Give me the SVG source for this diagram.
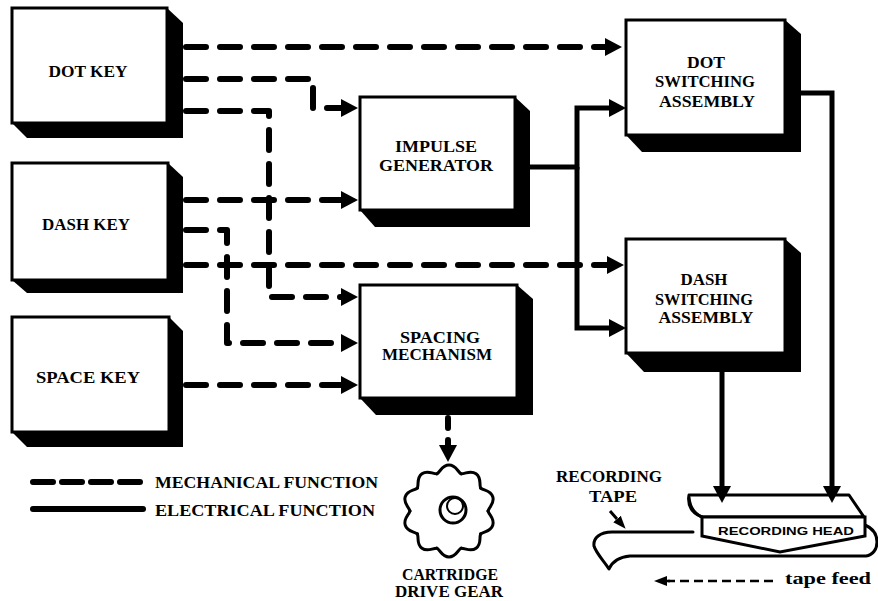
<svg xmlns="http://www.w3.org/2000/svg" width="878" height="601" viewBox="0 0 878 601">
<defs>
<style>
.face{fill:#fff;stroke:#000;stroke-width:3}
.shd{fill:#000}
.t{font-family:"Liberation Serif","DejaVu Serif",serif;font-weight:bold;font-size:16px;text-anchor:middle;fill:#000}
.ts{font-family:"Liberation Serif","DejaVu Serif",serif;font-weight:bold;font-size:16px;fill:#000}
.mech{fill:none;stroke:#000;stroke-width:6;stroke-dasharray:20 14;stroke-linecap:round;stroke-linejoin:round}
.elec{fill:none;stroke:#000;stroke-width:5;stroke-linejoin:miter}
.thin{fill:none;stroke:#000;stroke-width:3;stroke-linejoin:round;stroke-linecap:round}
</style>
<marker id="ah" markerUnits="userSpaceOnUse" markerWidth="20" markerHeight="20" refX="0" refY="9" orient="auto" viewBox="0 0 20 18">
<path d="M0,0 L17,9 L0,18 Z" fill="#000"/>
</marker>
<marker id="ahs" markerUnits="userSpaceOnUse" markerWidth="14" markerHeight="12" refX="0" refY="5" orient="auto" viewBox="0 0 14 10">
<path d="M0,0 L13,5 L0,10 Z" fill="#000"/>
</marker>
<path id="tooth" d="M-12.1,-37.1 C-8,-40 -7,-46 0,-46 C7,-46 8,-40 12.1,-37.1"/>
</defs>
<rect width="878" height="601" fill="#fff"/>

<g id="dot-key">
<path class="shd" d="M167,8 L183,23 V138 H27 L12,123 Z"/>
<rect class="face" x="12" y="8" width="155" height="115"/>
<text class="t" x="88" y="77" textLength="79" lengthAdjust="spacingAndGlyphs">DOT KEY</text>
</g>
<g id="dash-key">
<path class="shd" d="M168,163 L183,177 V293 H27 L12,280 Z"/>
<rect class="face" x="12" y="163" width="156" height="117"/>
<text class="t" x="86" y="230" textLength="88" lengthAdjust="spacingAndGlyphs">DASH KEY</text>
</g>
<g id="space-key">
<path class="shd" d="M169,317 L183,331 V447 H27 L12,432 Z"/>
<rect class="face" x="12" y="317" width="157" height="115"/>
<text class="t" x="88" y="383" textLength="104" lengthAdjust="spacingAndGlyphs">SPACE KEY</text>
</g>
<g id="impulse-generator">
<path class="shd" d="M515,97 L530,111 V227 H375 L360,210 Z"/>
<rect class="face" x="360" y="97" width="155" height="113"/>
<text class="t" x="436" y="152" textLength="82" lengthAdjust="spacingAndGlyphs">IMPULSE</text>
<text class="t" x="436" y="171" textLength="114" lengthAdjust="spacingAndGlyphs">GENERATOR</text>
</g>
<g id="spacing-mechanism">
<path class="shd" d="M517,285 L533,299 V415 H376 L360,398 Z"/>
<rect class="face" x="360" y="285" width="157" height="113"/>
<text class="t" x="440" y="343" textLength="80" lengthAdjust="spacingAndGlyphs">SPACING</text>
<text class="t" x="437" y="360" textLength="110" lengthAdjust="spacingAndGlyphs">MECHANISM</text>
</g>
<g id="dot-switching-assembly">
<path class="shd" d="M785,20 L801,34 V152 H642 L626,135 Z"/>
<rect class="face" x="626" y="20" width="159" height="115"/>
<text class="t" x="706" y="68" textLength="38" lengthAdjust="spacingAndGlyphs">DOT</text>
<text class="t" x="705" y="87" textLength="100" lengthAdjust="spacingAndGlyphs">SWITCHING</text>
<text class="t" x="707" y="107" textLength="96" lengthAdjust="spacingAndGlyphs">ASSEMBLY</text>
</g>
<g id="dash-switching-assembly">
<path class="shd" d="M785,239 L801,253 V372 H644 L626,353 Z"/>
<rect class="face" x="626" y="239" width="159" height="114"/>
<text class="t" x="704" y="285" textLength="47" lengthAdjust="spacingAndGlyphs">DASH</text>
<text class="t" x="704" y="305" textLength="98" lengthAdjust="spacingAndGlyphs">SWITCHING</text>
<text class="t" x="706" y="323" textLength="95" lengthAdjust="spacingAndGlyphs">ASSEMBLY</text>
</g>

<g id="cartridge-drive-gear">
<g class="thin" transform="translate(449,511)">
<use href="#tooth"/>
<use href="#tooth" transform="rotate(36)"/>
<use href="#tooth" transform="rotate(72)"/>
<use href="#tooth" transform="rotate(108)"/>
<use href="#tooth" transform="rotate(144)"/>
<use href="#tooth" transform="rotate(180)"/>
<use href="#tooth" transform="rotate(216)"/>
<use href="#tooth" transform="rotate(252)"/>
<use href="#tooth" transform="rotate(288)"/>
<use href="#tooth" transform="rotate(324)"/>
</g>
<circle cx="453" cy="510" r="13" fill="#fff" stroke="#000" stroke-width="3"/>
<circle cx="455" cy="506" r="8" fill="none" stroke="#000" stroke-width="2"/>
<text class="t" x="450" y="580" textLength="96" lengthAdjust="spacingAndGlyphs">CARTRIDGE</text>
<text class="t" x="449" y="597" textLength="108" lengthAdjust="spacingAndGlyphs">DRIVE GEAR</text>
</g>

<g id="recording-tape">
<path class="thin" d="M693,532 H612 C600,532 593,538 594,546 C596,553 604,561 609,569 C612,562 619,557 630,556 H866 C873,555 877,549 877,542 C877,534 872,528 865,525"/>
<text class="t" x="609" y="482" textLength="106" lengthAdjust="spacingAndGlyphs">RECORDING</text>
<text class="t" x="613" y="502" textLength="48" lengthAdjust="spacingAndGlyphs">TAPE</text>
<path d="M610,511 L617,519" stroke="#000" stroke-width="3" marker-end="url(#ahs)"/>
</g>

<g id="recording-head">
<path class="thin" d="M689,495 H849 L864,517 H702 C694,514 687,508 689,495 Z" style="fill:#fff"/>
<path class="thin" d="M689,498 C690,507 695,514 702,517"/>
<path class="face" d="M702,517 V536 L780,552 L865,536 V517 Z"/>
<text x="786" y="535" font-family="Liberation Sans, DejaVu Sans, sans-serif" font-weight="bold" font-size="10" text-anchor="middle" textLength="136" lengthAdjust="spacingAndGlyphs">RECORDING HEAD</text>
</g>

<g id="connectors">
<path class="mech" d="M186,47 H605" marker-end="url(#ah)"/>
<path class="mech" d="M186,79 H313 V108 H341" marker-end="url(#ah)"/>
<path class="mech" d="M186,111 H269 V297 H341" marker-end="url(#ah)"/>
<path class="mech" d="M186,200 H341" marker-end="url(#ah)"/>
<path class="mech" d="M186,230 H227 V343 H341" marker-end="url(#ah)"/>
<path class="mech" d="M186,265 H607" marker-end="url(#ah)"/>
<path class="mech" d="M186,385 H341" marker-end="url(#ah)"/>
<path class="mech" d="M448,418 V445" style="stroke-dasharray:10 12" marker-end="url(#ah)"/>
<path class="elec" d="M530,167 H577 V108 H609" marker-end="url(#ah)"/>
<path class="elec" d="M577,167 V328 H609" marker-end="url(#ah)"/>
<path class="elec" d="M801,93 H832 V486" marker-end="url(#ah)"/>
<path class="elec" d="M722,372 V486" marker-end="url(#ah)"/>
<path d="M773,581 H668" stroke="#000" stroke-width="2.5" stroke-dasharray="9 5" fill="none"/>
<path d="M670,581 H667" stroke="#000" stroke-width="2.5" marker-end="url(#ahs)"/>
</g>

<g id="legend">
<path class="mech" d="M33,482 H143" style="stroke-dasharray:20 9"/>
<path d="M33,509 H143" stroke="#000" stroke-width="6" stroke-linecap="round"/>
<text class="ts" x="155" y="488" textLength="223" lengthAdjust="spacingAndGlyphs">MECHANICAL FUNCTION</text>
<text class="ts" x="155" y="516" textLength="220" lengthAdjust="spacingAndGlyphs">ELECTRICAL FUNCTION</text>
<text class="ts" x="785" y="584" textLength="86" lengthAdjust="spacingAndGlyphs">tape feed</text>
</g>
</svg>
